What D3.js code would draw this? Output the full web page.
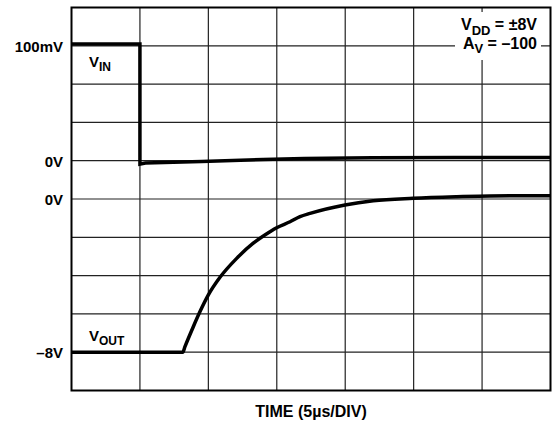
<!DOCTYPE html>
<html>
<head>
<meta charset="utf-8">
<script src="https://cdn.jsdelivr.net/npm/d3@7"></script>
<style>
  body { margin: 0; background: #fff; }
  text { font-family: "Liberation Sans", Arial, sans-serif; font-weight: bold; fill: #000; }
</style>
</head>
<body>
<div id="chart"></div>
<script>
// time axis: 5us per division, 7 divisions
const timeTicks = [0, 5, 10, 15, 20, 25, 30, 35];

// V_IN trace (time in us, input in mV)
const vinTime = [0, 5.0, 5.0, 5.4, 9.5, 14, 17, 22, 28, 35];
const vinMv   = [101.5, 101.5, -3, -2, -0.8, 1.0, 2.0, 2.6, 2.8, 2.8];

// V_OUT trace (time in us, output in V)
const voutTime = [0, 8.13, 8.29, 8.9, 9.39, 10.0, 10.85, 12.07, 13.28, 14.5, 14.99,
                  15.97, 16.7, 17.43, 19.98, 22.05, 24.97, 28.15, 30.58, 35];
const voutV    = [-8, -8, -7.71, -6.67, -5.88, -5.01, -4.09, -3.1, -2.31, -1.71, -1.5,
                  -1.19, -0.92, -0.75, -0.31, -0.09, 0.04, 0.12, 0.16, 0.17];

// left-hand level labels
const vinTicks = [100, 0];
const vinTickLabels = ['100mV', '0V'];
const voutTicks = [0, -8];
const voutTickLabels = ['0V', '\u20138V'];

const width = 560, height = 427;
const plotLeft = 71.5, plotRight = 550.5, plotTop = 7.5, plotBottom = 390.5;

const svg = d3.select('#chart')
  .append('svg')
  .attr('width', width)
  .attr('height', height);

const x = d3.scaleLinear().domain([0, 35]).range([plotLeft, plotRight]);
// screen divisions, 0 at the bottom, 10 at the top
const yDiv = d3.scaleLinear().domain([0, 10]).range([plotBottom, plotTop]);
// input is 100mV over 3 divisions, 0V on division 6
const yIn = d3.scaleLinear().domain([0, 100]).range([yDiv(6), yDiv(9)]);
// output is 8V over 4 divisions, 0V on division 5
const yOut = d3.scaleLinear().domain([-8, 0]).range([yDiv(1), yDiv(5)]);

// grid
svg.append('g')
  .selectAll('line')
  .data(timeTicks.slice(1, -1))
  .enter()
  .append('line')
  .attr('x1', d => x(d)).attr('x2', d => x(d))
  .attr('y1', plotTop).attr('y2', plotBottom)
  .attr('stroke', '#222')
  .attr('stroke-width', 1.2);

svg.append('g')
  .selectAll('line')
  .data(d3.range(1, 10))
  .enter()
  .append('line')
  .attr('x1', plotLeft).attr('x2', plotRight)
  .attr('y1', d => yDiv(d)).attr('y2', d => yDiv(d))
  .attr('stroke', '#222')
  .attr('stroke-width', 1.2);

// white patch behind the conditions box
svg.append('rect')
  .attr('x', 455).attr('y', 12)
  .attr('width', 86).attr('height', 48)
  .attr('fill', '#fff');

svg.append('rect')
  .attr('x', plotLeft).attr('y', plotTop)
  .attr('width', plotRight - plotLeft).attr('height', plotBottom - plotTop)
  .attr('fill', 'none')
  .attr('stroke', '#000')
  .attr('stroke-width', 2);

// traces
const vinLine = d3.line()
  .x(i => x(vinTime[i]))
  .y(i => yIn(vinMv[i]));

svg.append('path')
  .attr('d', vinLine(d3.range(vinTime.length)))
  .attr('fill', 'none')
  .attr('stroke', '#000')
  .attr('stroke-width', 3.5);

const voutLine = d3.line()
  .x(i => x(voutTime[i]))
  .y(i => yOut(voutV[i]))
  .curve(d3.curveMonotoneX);

svg.append('path')
  .attr('d', voutLine(d3.range(voutTime.length)))
  .attr('fill', 'none')
  .attr('stroke', '#000')
  .attr('stroke-width', 3.5);

// level labels
svg.append('g')
  .selectAll('text')
  .data(vinTicks)
  .enter()
  .append('text')
  .attr('x', 63)
  .attr('y', d => yIn(d) + 6)
  .attr('text-anchor', 'end')
  .style('font-size', '15px')
  .text((d, i) => vinTickLabels[i]);

svg.append('g')
  .selectAll('text')
  .data(voutTicks)
  .enter()
  .append('text')
  .attr('x', 63)
  .attr('y', d => yOut(d) + 6)
  .attr('text-anchor', 'end')
  .style('font-size', '15px')
  .text((d, i) => voutTickLabels[i]);

// trace names
function subLabel(px, py, main, sub, rest, anchor, size) {
  const t = svg.append('text')
    .attr('x', px).attr('y', py)
    .attr('text-anchor', anchor)
    .style('font-size', size + 'px');
  t.append('tspan').text(main);
  t.append('tspan').attr('dy', 4.5).style('font-size', (size - 3) + 'px').text(sub);
  if (rest) t.append('tspan').attr('dy', -4.5).text(rest);
}

subLabel(89, 66.5, 'V', 'IN', null, 'start', 15);
subLabel(89, 340.5, 'V', 'OUT', null, 'start', 15);
subLabel(537, 30, 'V', 'DD', ' = \u00b18V', 'end', 16);
subLabel(537, 48.5, 'A', 'V', ' = \u2013100', 'end', 16);

svg.append('text')
  .attr('x', x(17.5))
  .attr('y', 417)
  .attr('text-anchor', 'middle')
  .style('font-size', '16px')
  .text('TIME (5\u00b5s/DIV)');
</script>
</body>
</html>
